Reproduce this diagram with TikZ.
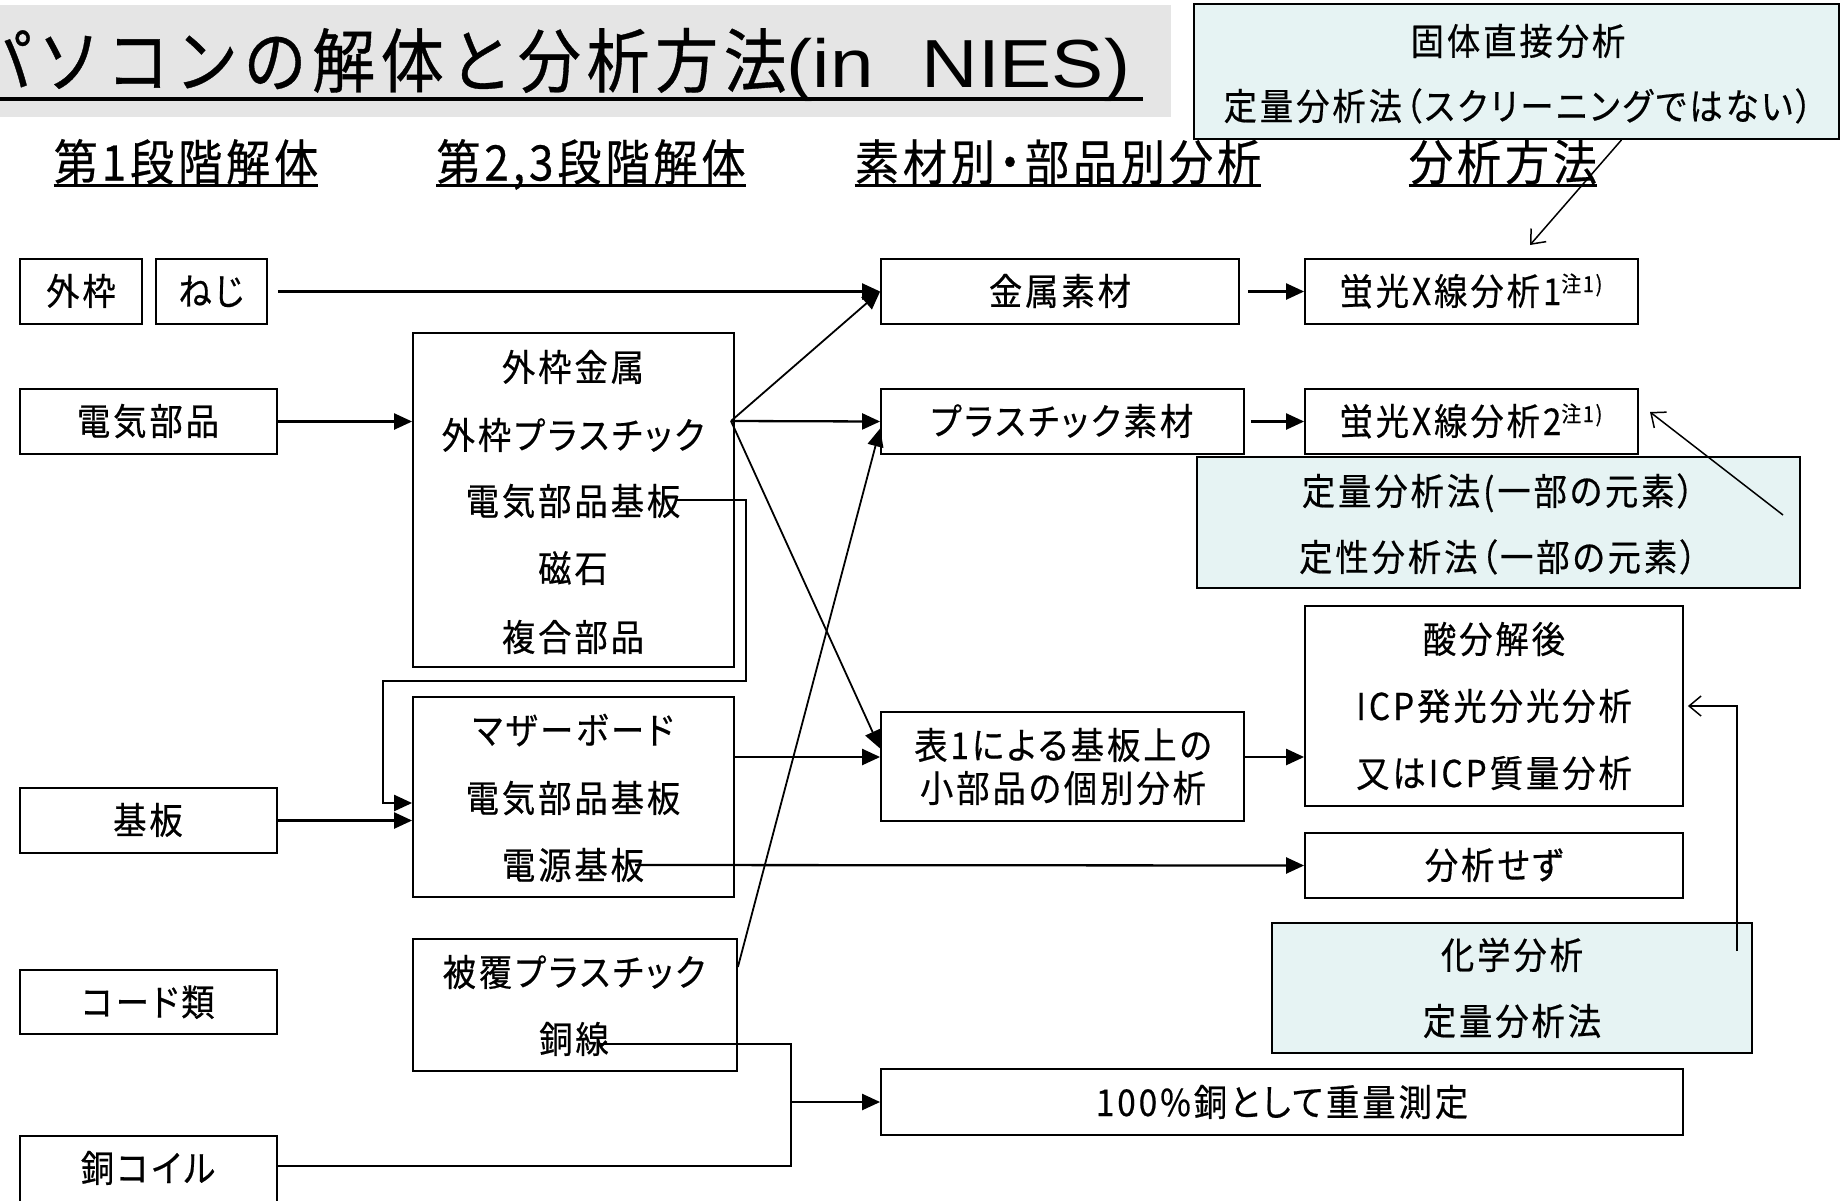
\documentclass[tikz,border=0pt]{standalone}
\usepackage{fontspec}
\setmainfont{Noto Sans CJK JP}[FakeStretch=0.9,LetterSpace=8,FakeBold=0.5]
\newfontfamily\pfont{Noto Sans CJK JP}[FakeStretch=0.9,LetterSpace=8,FakeBold=0.5,RawFeature=+palt]
\newfontfamily\latfont{Liberation Sans}[FakeStretch=1.15]
\usetikzlibrary{arrows.meta}
\definecolor{ttlgray}{RGB}{229,229,229}
\definecolor{paleblue}{RGB}{230,243,243}
\newcommand\fsz[1]{\fontsize{#1}{#1}\selectfont}
\begin{document}
\begin{tikzpicture}[x=1pt,y=-1pt,
  box/.style={draw=black,line width=1.8pt,inner sep=0pt},
  bluebox/.style={box,fill=paleblue},
  lbl/.style={font=\pfont\fsz{37},text height=28pt,text depth=0pt,inner sep=0pt},
  hdr/.style={font=\pfont\fsz{49},text height=37pt,text depth=0pt,inner sep=0pt},
  ttl/.style={font=\fsz{70},text height=52pt,text depth=0pt,inner sep=0pt},
  conn/.style={line width=2.3pt,-{Triangle[length=18pt,width=16pt]}},
  diag/.style={line width=1.8pt,-{Triangle[length=18pt,width=16pt]}},
  link/.style={line width=2.3pt},
  thinarr/.style={line width=1.5pt,-{Straight Barb[length=12pt,width=20pt]}},
  uline/.style={line width=3pt}
]
\useasboundingbox (0,0) rectangle (1845,1200);
\clip (0,0) rectangle (1845,1200);
\fill[white] (0,0) rectangle (1845,1200);

% title
\fill[ttlgray] (0,5) rectangle (1171,117);
\node[ttl,anchor=west] (title) at (-31,61) {パソコンの解体と分析方法{\latfont\fsz{68}(in\hspace{48pt}NIES)}};
\draw[line width=3.5pt] (title.south west |- 0,99) -- (1143,99);

% headers
\node[hdr] (h1) at (186,162) {第1段階解体};
\node[hdr] (h2) at (591,162) {第2,3段階解体};
\node[hdr] (h3) at (1058,162) {素材別・部品別分析};
\node[hdr] (h4) at (1503,162) {分析方法};
\foreach \h in {h1,h2,h3,h4}{
  \draw[uline] ([yshift=-4.5pt]\h.south west) -- ([yshift=-4.5pt]\h.south east);
}

% box frames (centre, width, height)
\node[box,minimum width=122pt,minimum height=65pt] (wk) at (81,291.5) {};
\node[box,minimum width=111pt,minimum height=65pt] (nj) at (211.5,291.5) {};
\node[box,minimum width=257pt,minimum height=65pt] (dk) at (148.5,421.5) {};
\node[box,minimum width=321pt,minimum height=334pt] (big) at (573.5,500) {};
\node[box,minimum width=257pt,minimum height=65pt] (kb) at (148.5,820.5) {};
\node[box,minimum width=321pt,minimum height=200pt] (mb) at (573.5,797) {};
\node[box,minimum width=257pt,minimum height=64pt] (cd) at (148.5,1002) {};
\node[box,minimum width=324pt,minimum height=132pt] (hf) at (575,1005) {};
\node[box,minimum width=257pt,minimum height=79pt] (cc) at (148.5,1175.5) {};
\node[box,minimum width=358pt,minimum height=65pt] (km) at (1060,291.5) {};
\node[box,minimum width=363pt,minimum height=65pt] (ps) at (1062.5,421.5) {};
\node[box,minimum width=363pt,minimum height=109pt] (t1) at (1062.5,766.5) {};
\node[box,minimum width=802pt,minimum height=66pt] (cu) at (1282,1102) {};
\node[box,minimum width=333pt,minimum height=65pt] (x1) at (1471.5,291.5) {};
\node[box,minimum width=333pt,minimum height=65pt] (x2) at (1471.5,421.5) {};
\node[bluebox,minimum width=645pt,minimum height=135pt] (bA) at (1516.5,71.5) {};
\node[bluebox,minimum width=603pt,minimum height=131pt] (bB) at (1498.5,522.5) {};
\node[box,minimum width=378pt,minimum height=200pt] (ac) at (1494,706) {};
\node[box,minimum width=378pt,minimum height=65pt] (ns) at (1494,865.5) {};
\node[bluebox,minimum width=480pt,minimum height=130pt] (bC) at (1512,988) {};

% texts
\node[lbl] (twk) at (81,291) {外枠};
\node[lbl] (tnj) at (211,291) {ねじ};
\node[lbl] (tdk) at (148,421) {電気部品};
\node[lbl] (tkb) at (148,820) {基板};
\node[lbl] (tcd) at (148,1002) {コード類};
\node[lbl] (tcc) at (148,1168) {銅コイル};
\node[lbl] (b1) at (573,367) {外枠金属};
\node[lbl] (b2) at (573,435) {外枠プラスチック};
\node[lbl] (b3) at (573,501) {電気部品基板};
\node[lbl] (b4) at (573,568) {磁石};
\node[lbl] (b5) at (573,637) {複合部品};
\node[lbl] (m1) at (573,730) {マザーボード};
\node[lbl] (m2) at (573,798) {電気部品基板};
\node[lbl] (m3) at (573,865) {電源基板};
\node[lbl] (f1) at (574,972) {被覆プラスチック};
\node[lbl] (f2) at (574,1039) {銅線};
\node[lbl] (tkm) at (1060,291) {金属素材};
\node[lbl] (tps) at (1062,421) {プラスチック素材};
\node[lbl] (tt1a) at (1063,745) {表1による基板上の};
\node[lbl] (tt1b) at (1063,788) {小部品の個別分析};
\node[lbl] (tcu) at (1282,1102) {100\%銅として重量測定};
\node[lbl] (tx1) at (1471,291) {蛍光X線分析1{\fsz{22}\raisebox{13pt}{注1)}}};
\node[lbl] (tx2) at (1471,421) {蛍光X線分析2{\fsz{22}\raisebox{13pt}{注1)}}};
\node[lbl] (ac1) at (1494,639) {酸分解後};
\node[lbl] (ac2) at (1494,706) {ICP発光分光分析};
\node[lbl] (ac3) at (1494,773) {又はICP質量分析};
\node[lbl] (tns) at (1494,865) {分析せず};
\node[lbl] (tA1) at (1518,41) {固体直接分析};
\node[lbl] (tA2) at (1518,106) {定量分析法（スクリーニングではない）};
\node[lbl] (tB1) at (1498,491) {定量分析法(一部の元素）};
\node[lbl] (tB2) at (1498,557) {定性分析法（一部の元素）};
\node[lbl] (tC1) at (1512,955) {化学分析};
\node[lbl] (tC2) at (1512,1021) {定量分析法};

% free ends
\coordinate (p1) at (731,421);
\coordinate (c3) at (677,500);
\coordinate (c7) at (635,865);
\coordinate (c9) at (600,1044);
\coordinate (jn) at (791,1102);
\coordinate (a13) at (1530,245);
\coordinate (s14) at (1783,515);
\coordinate (a14) at (1650,412);
\coordinate (s15) at (1737,951);

% connectors
\draw[conn] ([xshift=10pt]nj.east) -- (km.west);
\draw[conn] (dk.east) -- (big.west |- dk.east);
\draw[diag] (p1) -- (km.west);
\draw[conn] (p1) -- (ps.west);
\draw[diag] (p1) -- ([yshift=18pt]t1.west);
\draw[conn] (c3) -| (746,681) -| (383,803) -- (mb.west |- 0,803);
\draw[conn] (kb.east) -- (mb.west |- kb.east);
\draw[conn] (mb.east |- 0,757) -- (t1.west |- 0,757);
\draw[conn] (c7) -- (ns.west);
\draw[diag] (hf.east |- 0,967) -- ([yshift=-7pt]ps.west);
\draw[link] (c9) -| (jn);
\draw[link] (cc.east |- 0,1166) -| (jn);
\draw[conn] (jn) -- (cu.west);
\draw[conn] ([xshift=8pt]km.east) -- (x1.west);
\draw[conn] ([xshift=6pt]ps.east) -- (x2.west);
\draw[conn] (t1.east |- 0,757) -- (ac.west |- 0,757);
\draw[thinarr] ([xshift=105pt]bA.south) -- (a13);
\draw[thinarr] (s14) -- (a14);
\draw[thinarr] (s15) |- ([xshift=4pt]ac.east);
\end{tikzpicture}
\end{document}
